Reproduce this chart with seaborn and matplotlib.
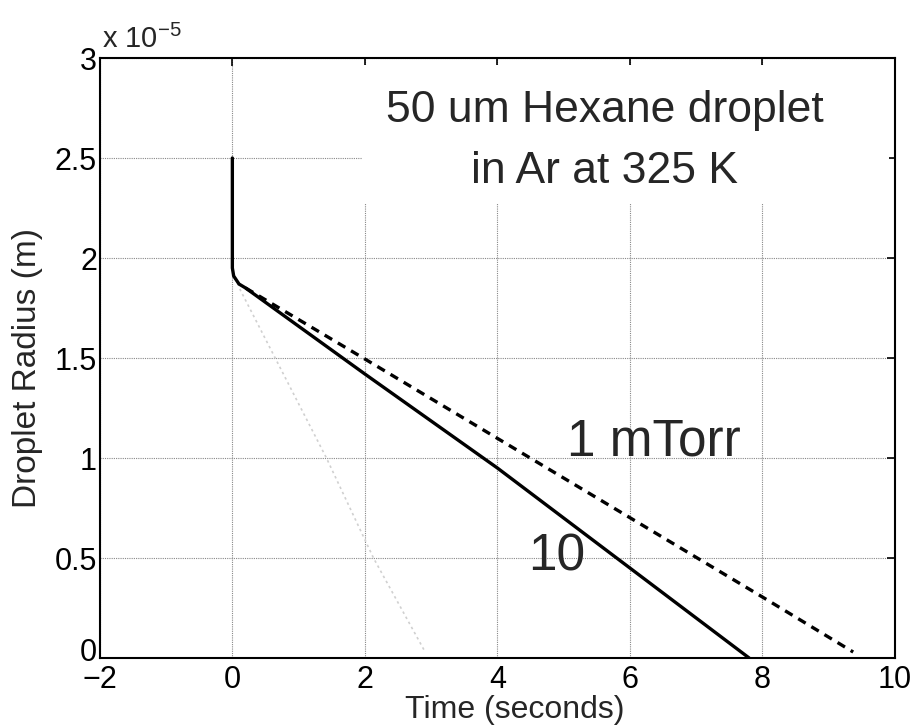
import matplotlib
matplotlib.use('Agg')
import matplotlib.pyplot as plt
import matplotlib.patches as mpatches
from matplotlib.transforms import ScaledTranslation
import seaborn as sns
import pandas as pd

# radius values in units of 1e-5 m
t_10 = [0.0, 0.0, 0.02, 0.1, 0.2, 2.0, 4.0, 7.8]
r_10 = [2.5, 1.95, 1.91, 1.87, 1.85, 1.42, 0.95, 0.0]

t_1 = [0.2, 2.0, 8.0, 9.37]
r_1 = [1.85, 1.495, 0.305, 0.03]

t_faint = [0.05, 0.12, 1.42, 2.13, 2.91]
r_faint = [1.9, 1.84, 1.0, 0.5, 0.03]

xticks = [-2, 0, 2, 4, 6, 8, 10]
yticks = [0, 0.5, 1, 1.5, 2, 2.5, 3]
ytick_labels = ["0", "0.5", "1", "1.5", "2", "2.5", "3"]

sns.set_theme(style="white")
plt.rcParams['font.family'] = ['Liberation Sans', 'DejaVu Sans']

fig = plt.figure(figsize=(9.16, 7.25), dpi=100)
ax = fig.add_axes([0.109, 0.0924, 0.868, 0.8276])

df10 = pd.DataFrame({"t": t_10, "r": r_10})
df1 = pd.DataFrame({"t": t_1, "r": r_1})
dff = pd.DataFrame({"t": t_faint, "r": r_faint})

sns.lineplot(data=dff, x="t", y="r", ax=ax, color="#d0d0d0", lw=1.2,
             linestyle=(0, (1.5, 2)), estimator=None, sort=False)
sns.lineplot(data=df1, x="t", y="r", ax=ax, color="black", lw=2.4,
             linestyle=(0, (2.6, 2.0)), estimator=None, sort=False)
sns.lineplot(data=df10, x="t", y="r", ax=ax, color="black", lw=2.4,
             estimator=None, sort=False)

ax.set_xlim(-2, 10)
ax.set_ylim(0, 3)
ax.set_xticks(xticks)
ax.set_yticks(yticks)
ax.set_yticklabels(ytick_labels)
ax.tick_params(labelsize=22, direction="in", length=6, width=1.2,
               top=True, right=True, colors="black")
ax.tick_params(axis="x", pad=5)
ax.tick_params(axis="y", pad=2)
ax.grid(True, linestyle=(0, (1, 1)), color="#888888", lw=0.8)

# nudge the "0" on the y axis up so it sits above the "-2"
zero_lbl = ax.yaxis.get_major_ticks()[0].label1
zero_lbl.set_transform(zero_lbl.get_transform()
                       + ScaledTranslation(0, 6 / 72, fig.dpi_scale_trans))

for s in ax.spines.values():
    s.set_visible(True)
    s.set_color("black")
    s.set_linewidth(1.5)

ax.set_xlabel("Time (seconds)", fontsize=23)
ax.xaxis.set_label_coords(0.522, -0.061, transform=ax.transAxes)
ax.set_ylabel("Droplet Radius (m)", fontsize=24)
ax.yaxis.set_label_coords(-0.072, 0.484, transform=ax.transAxes)
ax.text(0.003, 1.006, r"x 10$^{\mathregular{-5}}$", transform=ax.transAxes,
        fontsize=21, ha="left", va="bottom")

# white box behind the annotation
ax.add_patch(mpatches.Rectangle((1.96, 2.275), 7.95, 0.69, facecolor="white",
                                edgecolor="none", zorder=4))
ax.text(5.62, 2.585, "50 um Hexane droplet\nin Ar at 325 K", fontsize=32,
        ha="center", va="center", linespacing=1.6, zorder=5)
ax.text(6.36, 1.08, "1 mTorr", fontsize=37, ha="center", va="center")
ax.text(4.89, 0.505, "10", fontsize=37, ha="center", va="center")

fig.savefig("out.png", dpi=100)
